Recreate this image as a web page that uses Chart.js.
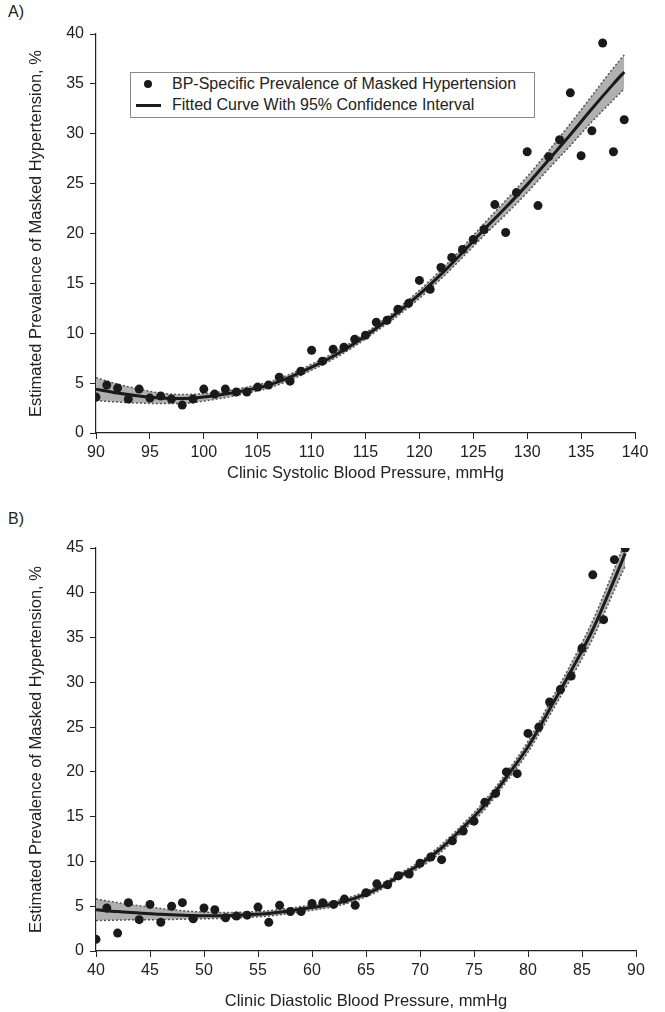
<!DOCTYPE html>
<html>
<head>
<meta charset="utf-8">
<script src="https://cdn.jsdelivr.net/npm/chart.js@4.4.1/dist/chart.umd.min.js"></script>
<style>
  body { margin: 0; background: #fff; font-family: "Liberation Sans", Arial, sans-serif; }
  #wrap { position: relative; width: 665px; height: 1012px; }
  .panel { position: absolute; left: 0; }
  .tag { position: absolute; left: 8px; font-size: 16px; color: #222; }
  #legend {
    position: absolute; left: 130px; top: 72px; width: 405px; height: 46px;
    border: 1.5px solid #888; box-sizing: border-box; background: #fff;
    font-size: 16px; color: #222;
  }
  #legend .row { position: absolute; left: 0; height: 20px; line-height: 20px; }
  #legend .dot { position: absolute; left: 13px; top: 6px; width: 8px; height: 8px; border-radius: 50%; background: #1a1a1a; }
  #legend .bar { position: absolute; left: 5px; top: 9px; width: 25px; height: 3px; background: #1a1a1a; }
  #legend .txt { position: absolute; left: 41px; white-space: nowrap; }
</style>
</head>
<body>
<div id="wrap">
  <div class="tag" style="top:3px">A)</div>
  <canvas id="chartA" class="panel" style="top:0px" width="665" height="490"></canvas>
  <div class="tag" style="top:510px">B)</div>
  <canvas id="chartB" class="panel" style="top:505px" width="665" height="507"></canvas>
  <div id="legend">
    <div class="row" style="top:1px"><span class="dot"></span><span class="txt">BP-Specific Prevalence of Masked Hypertension</span></div>
    <div class="row" style="top:22px"><span class="bar"></span><span class="txt">Fitted Curve With 95% Confidence Interval</span></div>
  </div>
</div>
<script>
// A) systolic
const sysBP = [90, 91, 92, 93, 94, 95, 96, 97, 98, 99, 100, 101, 102, 103, 104, 105, 106, 107, 108, 109,
  110, 111, 112, 113, 114, 115, 116, 117, 118, 119, 120, 121, 122, 123, 124, 125, 126, 127, 128, 129,
  130, 131, 132, 133, 134, 135, 136, 137, 138, 139];
const sysPrev = [3.6, 4.8, 4.5, 3.4, 4.4, 3.5, 3.7, 3.4, 2.8, 3.4, 4.4, 3.9, 4.4, 4.1, 4.1, 4.6, 4.8, 5.6, 5.2, 6.2,
  8.3, 7.2, 8.4, 8.6, 9.4, 9.8, 11.1, 11.3, 12.4, 13.0, 15.3, 14.4, 16.6, 17.6, 18.4, 19.4, 20.4, 22.9, 20.1, 24.1,
  28.2, 22.8, 27.7, 29.4, 34.1, 27.8, 30.3, 39.1, 28.2, 31.4];
const sysFitX = [90, 92, 94, 96, 98, 100, 102, 104, 106, 108, 110, 112, 114, 116, 118, 120, 122, 124, 126, 128, 130, 132, 134, 136, 138, 139];
const sysFit = [4.4, 4.0, 3.7, 3.5, 3.45, 3.6, 3.9, 4.3, 4.8, 5.6, 6.6, 7.7, 9.0, 10.5, 12.1, 13.9, 15.9, 18.1, 20.4, 22.6, 24.9, 27.4, 29.9, 32.5, 35.0, 36.2];
const sysUpper = [5.55, 4.9, 4.4, 4.0, 3.85, 3.95, 4.2, 4.6, 5.1, 5.9, 6.9, 8.0, 9.3, 10.8, 12.45, 14.3, 16.35, 18.6, 21.0, 23.3, 25.7, 28.3, 31.0, 33.8, 36.6, 37.9];
const sysLower = [3.25, 3.1, 3.0, 2.95, 2.95, 3.2, 3.55, 4.0, 4.5, 5.3, 6.3, 7.4, 8.7, 10.2, 11.75, 13.5, 15.45, 17.6, 19.8, 21.9, 24.1, 26.5, 28.8, 31.2, 33.4, 34.5];

// B) diastolic
const diaBP = [40, 41, 42, 43, 44, 45, 46, 47, 48, 49, 50, 51, 52, 53, 54, 55, 56, 57, 58, 59,
  60, 61, 62, 63, 64, 65, 66, 67, 68, 69, 70, 71, 72, 73, 74, 75, 76, 77, 78, 79,
  80, 81, 82, 83, 84, 85, 86, 87, 88, 89];
const diaPrev = [1.3, 4.8, 2.0, 5.4, 3.5, 5.2, 3.2, 5.0, 5.4, 3.6, 4.8, 4.6, 3.7, 3.9, 4.0, 4.9, 3.2, 5.1, 4.4, 4.4,
  5.3, 5.4, 5.2, 5.8, 5.1, 6.5, 7.5, 7.4, 8.4, 8.6, 9.8, 10.5, 10.2, 12.3, 13.4, 14.5, 16.6, 17.6, 20.0, 19.8,
  24.3, 25.0, 27.8, 29.2, 30.7, 33.8, 42.0, 37.0, 43.7, 45.0];
const diaFitX = [40, 42, 44, 46, 48, 50, 52, 54, 56, 58, 60, 62, 64, 66, 68, 70, 72, 74, 76, 78, 80, 82, 84, 86, 88, 89];
const diaFit = [4.6, 4.4, 4.25, 4.1, 4.0, 3.95, 3.95, 4.05, 4.2, 4.5, 4.85, 5.25, 5.9, 6.9, 8.3, 9.7, 11.5, 13.8, 16.3, 19.4, 22.8, 27.0, 31.3, 35.9, 41.5, 44.4];
const diaUpper = [5.8, 5.4, 5.05, 4.75, 4.5, 4.35, 4.3, 4.35, 4.5, 4.8, 5.15, 5.55, 6.2, 7.2, 8.6, 10.0, 11.9, 14.2, 16.8, 19.9, 23.4, 27.7, 32.1, 36.9, 42.7, 45.7];
const diaLower = [3.4, 3.45, 3.5, 3.5, 3.55, 3.6, 3.65, 3.75, 3.9, 4.2, 4.55, 4.95, 5.6, 6.6, 8.0, 9.3, 11.1, 13.4, 15.8, 18.9, 22.2, 26.3, 30.5, 34.9, 40.3, 43.0];

const FONT = 'Liberation Sans, Arial, sans-serif';
const INK = '#222';

function pts(xs, ys) {
  return xs.map((x, i) => ({ x: x, y: ys[i] }));
}

function makeChart(id, o) {
  const data = {
    datasets: [
      {
        label: 'Upper 95% CI',
        data: pts(o.fitX, o.upper),
        borderColor: '#555',
        borderWidth: 1.5,
        borderDash: [2, 2],
        backgroundColor: 'rgba(176,176,176,1)',
        fill: '+1',
        pointRadius: 0,
        cubicInterpolationMode: 'monotone',
        order: 3
      },
      {
        label: 'Lower 95% CI',
        data: pts(o.fitX, o.lower),
        borderColor: '#555',
        borderWidth: 1.5,
        borderDash: [2, 2],
        fill: false,
        pointRadius: 0,
        cubicInterpolationMode: 'monotone',
        order: 2
      },
      {
        label: 'Fitted Curve With 95% Confidence Interval',
        data: pts(o.fitX, o.fit),
        borderColor: '#1a1a1a',
        borderWidth: 3,
        fill: false,
        pointRadius: 0,
        cubicInterpolationMode: 'monotone',
        order: 1
      },
      {
        label: 'BP-Specific Prevalence of Masked Hypertension',
        data: pts(o.bp, o.prev),
        showLine: false,
        pointRadius: 4.5,
        pointBorderWidth: 0,
        pointBackgroundColor: '#1a1a1a',
        order: 0
      }
    ]
  };

  const config = {
    type: 'line',
    data: data,
    options: {
      responsive: false,
      animation: false,
      layout: { padding: { left: 0, right: 665 - o.right, top: o.top, bottom: 0 } },
      plugins: {
        legend: { display: false },
        tooltip: { enabled: false }
      },
      scales: {
        x: {
          type: 'linear',
          min: o.xmin,
          max: o.xmax,
          grid: { display: true, drawOnChartArea: false, drawTicks: true, tickLength: 6, color: '#222', tickWidth: 1 },
          border: { display: true, color: '#222', width: 1.2 },
          ticks: { stepSize: 5, padding: 4, color: INK, font: { family: FONT, size: 16 }, maxRotation: 0 },
          title: { display: true, text: o.xTitle, color: INK, font: { family: FONT, size: 16.5 }, padding: { top: 0, bottom: o.xTitlePad } },
          afterFit: function (scale) { scale.height = o.h - o.bottom; }
        },
        y: {
          min: 0,
          max: o.ymax,
          grid: { display: true, drawOnChartArea: false, drawTicks: true, tickLength: 6, color: '#222', tickWidth: 1 },
          border: { display: true, color: '#222', width: 1.2 },
          ticks: { stepSize: 5, padding: 6, color: INK, font: { family: FONT, size: 16 } },
          title: { display: true, text: 'Estimated Prevalence of Masked Hypertension, %', color: INK, font: { family: FONT, size: 16.5 }, padding: { top: 27, bottom: 0 } },
          afterFit: function (scale) { scale.width = 96; }
        }
      }
    }
  };

  return new Chart(document.getElementById(id).getContext('2d'), config);
}

makeChart('chartA', {
  bp: sysBP, prev: sysPrev, fitX: sysFitX, fit: sysFit, upper: sysUpper, lower: sysLower,
  xmin: 90, xmax: 140, ymax: 40, right: 635, top: 34, bottom: 433, h: 490, xTitlePad: 7,
  xTitle: 'Clinic Systolic Blood Pressure, mmHg'
});

makeChart('chartB', {
  bp: diaBP, prev: diaPrev, fitX: diaFitX, fit: diaFit, upper: diaUpper, lower: diaLower,
  xmin: 40, xmax: 90, ymax: 45, right: 636, top: 43, bottom: 446, h: 507, xTitlePad: 1,
  xTitle: 'Clinic Diastolic Blood Pressure, mmHg'
});
</script>
</body>
</html>
